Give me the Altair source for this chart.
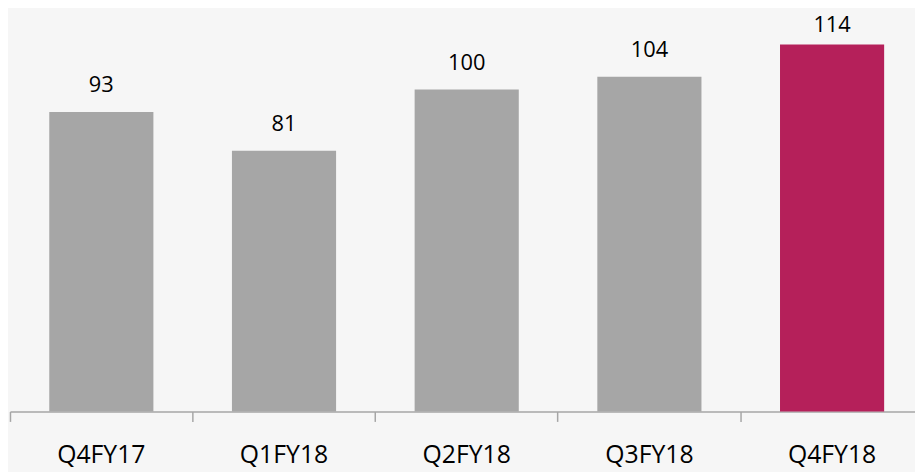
import altair as alt
import pandas as pd

quarters = ["Q4FY17", "Q1FY18", "Q2FY18", "Q3FY18", "Q4FY18"]
values = [93, 81, 100, 104, 114]
bar_colors = ["#a6a6a6", "#a6a6a6", "#a6a6a6", "#a6a6a6", "#b5205a"]

df = pd.DataFrame({"quarter": quarters, "value": values, "color": bar_colors})

FONT = "Open Sans"

x = alt.X(
    "quarter:N",
    sort=quarters,
    title=None,
    scale=alt.Scale(domain=quarters, range=[0, 921.5], paddingInner=0, paddingOuter=0),
    axis=alt.Axis(
        bandPosition=0,
        labelAngle=0,
        labelFont=FONT,
        labelFontSize=25,
        labelColor="#000000",
        labelPadding=21,
        tickSize=10,
        tickColor="#a6a6a6",
        tickWidth=1.5,
        domainColor="#a6a6a6",
        domainWidth=1.5,
        grid=False,
    ),
)
yscale = alt.Scale(domain=[0, 124.7], nice=False)
y = alt.Y("value:Q", title=None, scale=yscale, axis=None)

base = alt.Chart(df)
bars = base.mark_bar(width=alt.RelativeBandSize(0.57)).encode(
    x=x, y=y, color=alt.Color("color:N", scale=None)
)
# labels sit ~8.3 units above each bar, kept inside the top edge of the chart
labels = base.transform_calculate(
    label_y="min(datum.value + 8.3, 120.1)"
).mark_text(font=FONT, fontSize=22, baseline="middle", color="#000000").encode(
    x=alt.X("quarter:N", sort=quarters),
    y=alt.Y("label_y:Q", scale=yscale),
    text="value:Q",
)

chart = (
    alt.layer(bars, labels)
    .properties(width=913, height=405, autosize=alt.AutoSizeParams(type="none"),
                padding={"left": 2, "top": 0, "right": 0, "bottom": 59},
                background="#f6f6f6")
    .configure_view(stroke=None)
)

chart.save("out.html", embed_options={"renderer": "svg", "actions": False})
